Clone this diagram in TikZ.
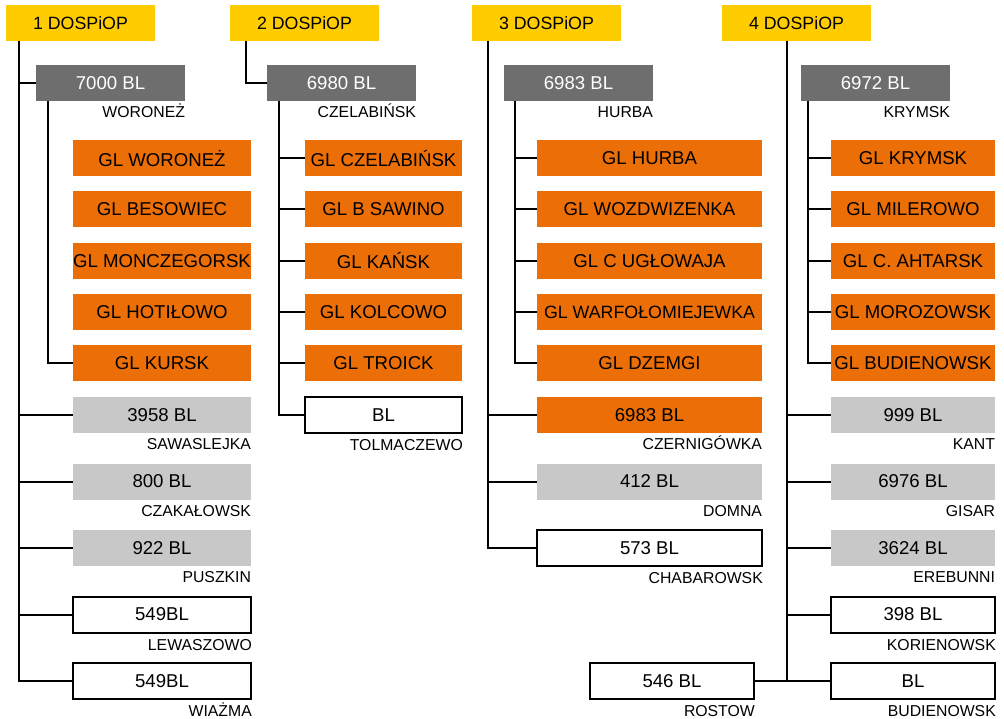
\documentclass[tikz,border=0pt]{standalone}
\usepackage{fontspec}
\setmainfont{Liberation Sans}
\usetikzlibrary{positioning, calc}
\definecolor{headyellow}{RGB}{255,204,0}
\definecolor{hubgray}{RGB}{110,110,110}
\definecolor{glorange}{RGB}{236,110,6}
\definecolor{baygray}{RGB}{200,200,200}

\tikzset{
    box/.style={inner sep=0pt, minimum height=36pt, font=\fontsize{18.6}{20}\selectfont},
    head/.style={box, fill=headyellow, minimum width=149pt, font=\fontsize{17.8}{20}\selectfont},
    hub/.style={box, fill=hubgray, text=white, minimum width=149pt},
    glbox/.style={box, fill=glorange},
    bay/.style={box, fill=baygray},
    open/.style={box, draw, line width=2pt, fill=white},
    place/.style={inner sep=0pt, font=\fontsize{15.8}{17}\selectfont, anchor=base east, yshift=-16.5pt},
    link/.style={line width=2pt},
    colA/.style={minimum width=178pt},
    colB/.style={minimum width=157pt},
    colC/.style={minimum width=225pt},
    colD/.style={minimum width=164pt}
}

\begin{document}
\begin{tikzpicture}[x=1pt, y=-1pt]
    \useasboundingbox (0,0) rectangle (1004,719);

    % Headers
    \node[head] (h1) at (80.5,23) {1 DOSPiOP};
    \node[head] (h2) at (304.5,23) {2 DOSPiOP};
    \node[head] (h3) at (546.5,23) {3 DOSPiOP};
    \node[head] (h4) at (796.5,23) {4 DOSPiOP};

    % Hubs
    \node[hub] (g1) at (110.5,83) {7000 BL};
    \node[place] (p1) at (g1.south east) {WORONEŻ};
    \node[hub] (g2) at (341.5,83) {6980 BL};
    \node[place] (p2) at (g2.south east) {CZELABIŃSK};
    \node[hub] (g3) at (578.5,83) {6983 BL};
    \node[place] (p3) at (g3.south east) {HURBA};
    \node[hub] (g4) at (875.5,83) {6972 BL};
    \node[place] (p4) at (g4.south east) {KRYMSK};

    % GL rows
    \foreach \txt [count=\i] in {GL WORONEŻ, GL BESOWIEC, GL MONCZEGORSK, GL HOTIŁOWO, GL KURSK}
        \node[glbox, colA] (k1-\i) at (162,{107+51.25*\i}) {\txt};
    \foreach \txt [count=\i] in {GL CZELABIŃSK, GL B SAWINO, GL KAŃSK, GL KOLCOWO, GL TROICK}
        \node[glbox, colB] (k2-\i) at (383.5,{107+51.25*\i}) {\txt};
    \foreach \txt [count=\i] in {GL HURBA, GL WOZDWIZENKA, GL C UGŁOWAJA, {\fontsize{17.8}{20}\selectfont GL WARFOŁOMIEJEWKA}, GL DZEMGI}
        \node[glbox, colC] (k3-\i) at (649.5,{107+51.25*\i}) {\txt};
    \foreach \txt [count=\i] in {GL KRYMSK, GL MILEROWO, GL C. AHTARSK, GL MOROZOWSK, GL BUDIENOWSK}
        \node[glbox, colD] (k4-\i) at (913,{107+51.25*\i}) {\txt};

    % Column 1 lower
    \node[bay, colA] (b1-1) at (162,415) {3958 BL};
    \node[place] (q1-1) at (b1-1.south east) {SAWASLEJKA};
    \node[bay, colA] (b1-2) at (162,481.5) {800 BL};
    \node[place] (q1-2) at (b1-2.south east) {CZAKAŁOWSK};
    \node[bay, colA] (b1-3) at (162,548) {922 BL};
    \node[place] (q1-3) at (b1-3.south east) {PUSZKIN};
    \node[open, colA] (b1-4) at (162,614.5) {549BL};
    \node[place] (q1-4) at (b1-4.south east) {LEWASZOWO};
    \node[open, colA] (b1-5) at (162,681) {549BL};
    \node[place] (q1-5) at (b1-5.south east) {WIAŻMA};

    % Column 2 lower
    \node[open, colB] (b2-1) at (383.5,415) {BL};
    \node[place] (q2-1) at (b2-1.south east) {TOLMACZEWO};

    % Column 3 lower
    \node[glbox, colC] (b3-1) at (649.5,415) {6983 BL};
    \node[place] (q3-1) at (b3-1.south east) {CZERNIGÓWKA};
    \node[bay, colC] (b3-2) at (649.5,481.5) {412 BL};
    \node[place] (q3-2) at (b3-2.south east) {DOMNA};
    \node[open, colC] (b3-3) at (649.5,548) {573 BL};
    \node[place] (q3-3) at (b3-3.south east) {CHABAROWSK};

    % Column 4 lower
    \node[bay, colD] (b4-1) at (913,415) {999 BL};
    \node[place] (q4-1) at (b4-1.south east) {KANT};
    \node[bay, colD] (b4-2) at (913,481.5) {6976 BL};
    \node[place] (q4-2) at (b4-2.south east) {GISAR};
    \node[bay, colD] (b4-3) at (913,548) {3624 BL};
    \node[place] (q4-3) at (b4-3.south east) {EREBUNNI};
    \node[open, colD] (b4-4) at (913,614.5) {398 BL};
    \node[place] (q4-4) at (b4-4.south east) {KORIENOWSK};
    \node[open, colD] (b4-5) at (913,681) {BL};
    \node[place] (q4-5) at (b4-5.south east) {BUDIENOWSK};
    \node[open, colD] (r4) at (672,681) {546 BL};
    \node[place] (s4) at (r4.south east) {ROSTOW};

    % Trunks
    \coordinate (t1) at (19,41);
    \coordinate (u1) at (48,101);
    \coordinate (t2) at (246,41);
    \coordinate (u2) at (279,101);
    \coordinate (t3) at (488,41);
    \coordinate (u3) at (515,101);
    \coordinate (t4) at (787,41);
    \coordinate (u4) at (808,101);

    % Links
    \foreach \n in {g1,b1-1,b1-2,b1-3,b1-4,b1-5}
        \draw[link] (t1) |- (\n.west);
    \draw[link] (u1) |- (k1-5.west);
    \draw[link] (t2) |- (g2.west);
    \foreach \n in {k2-1,k2-2,k2-3,k2-4,k2-5,b2-1}
        \draw[link] (u2) |- (\n.west);
    \foreach \n in {b3-1,b3-2,b3-3}
        \draw[link] (t3) |- (\n.west);
    \foreach \n in {k3-1,k3-2,k3-3,k3-4,k3-5}
        \draw[link] (u3) |- (\n.west);
    \foreach \n in {b4-1,b4-2,b4-3,b4-4,b4-5}
        \draw[link] (t4) |- (\n.west);
    \draw[link] (t4) |- (r4.east);
    \foreach \n in {k4-1,k4-2,k4-3,k4-4,k4-5}
        \draw[link] (u4) |- (\n.west);

\end{tikzpicture}
\end{document}
